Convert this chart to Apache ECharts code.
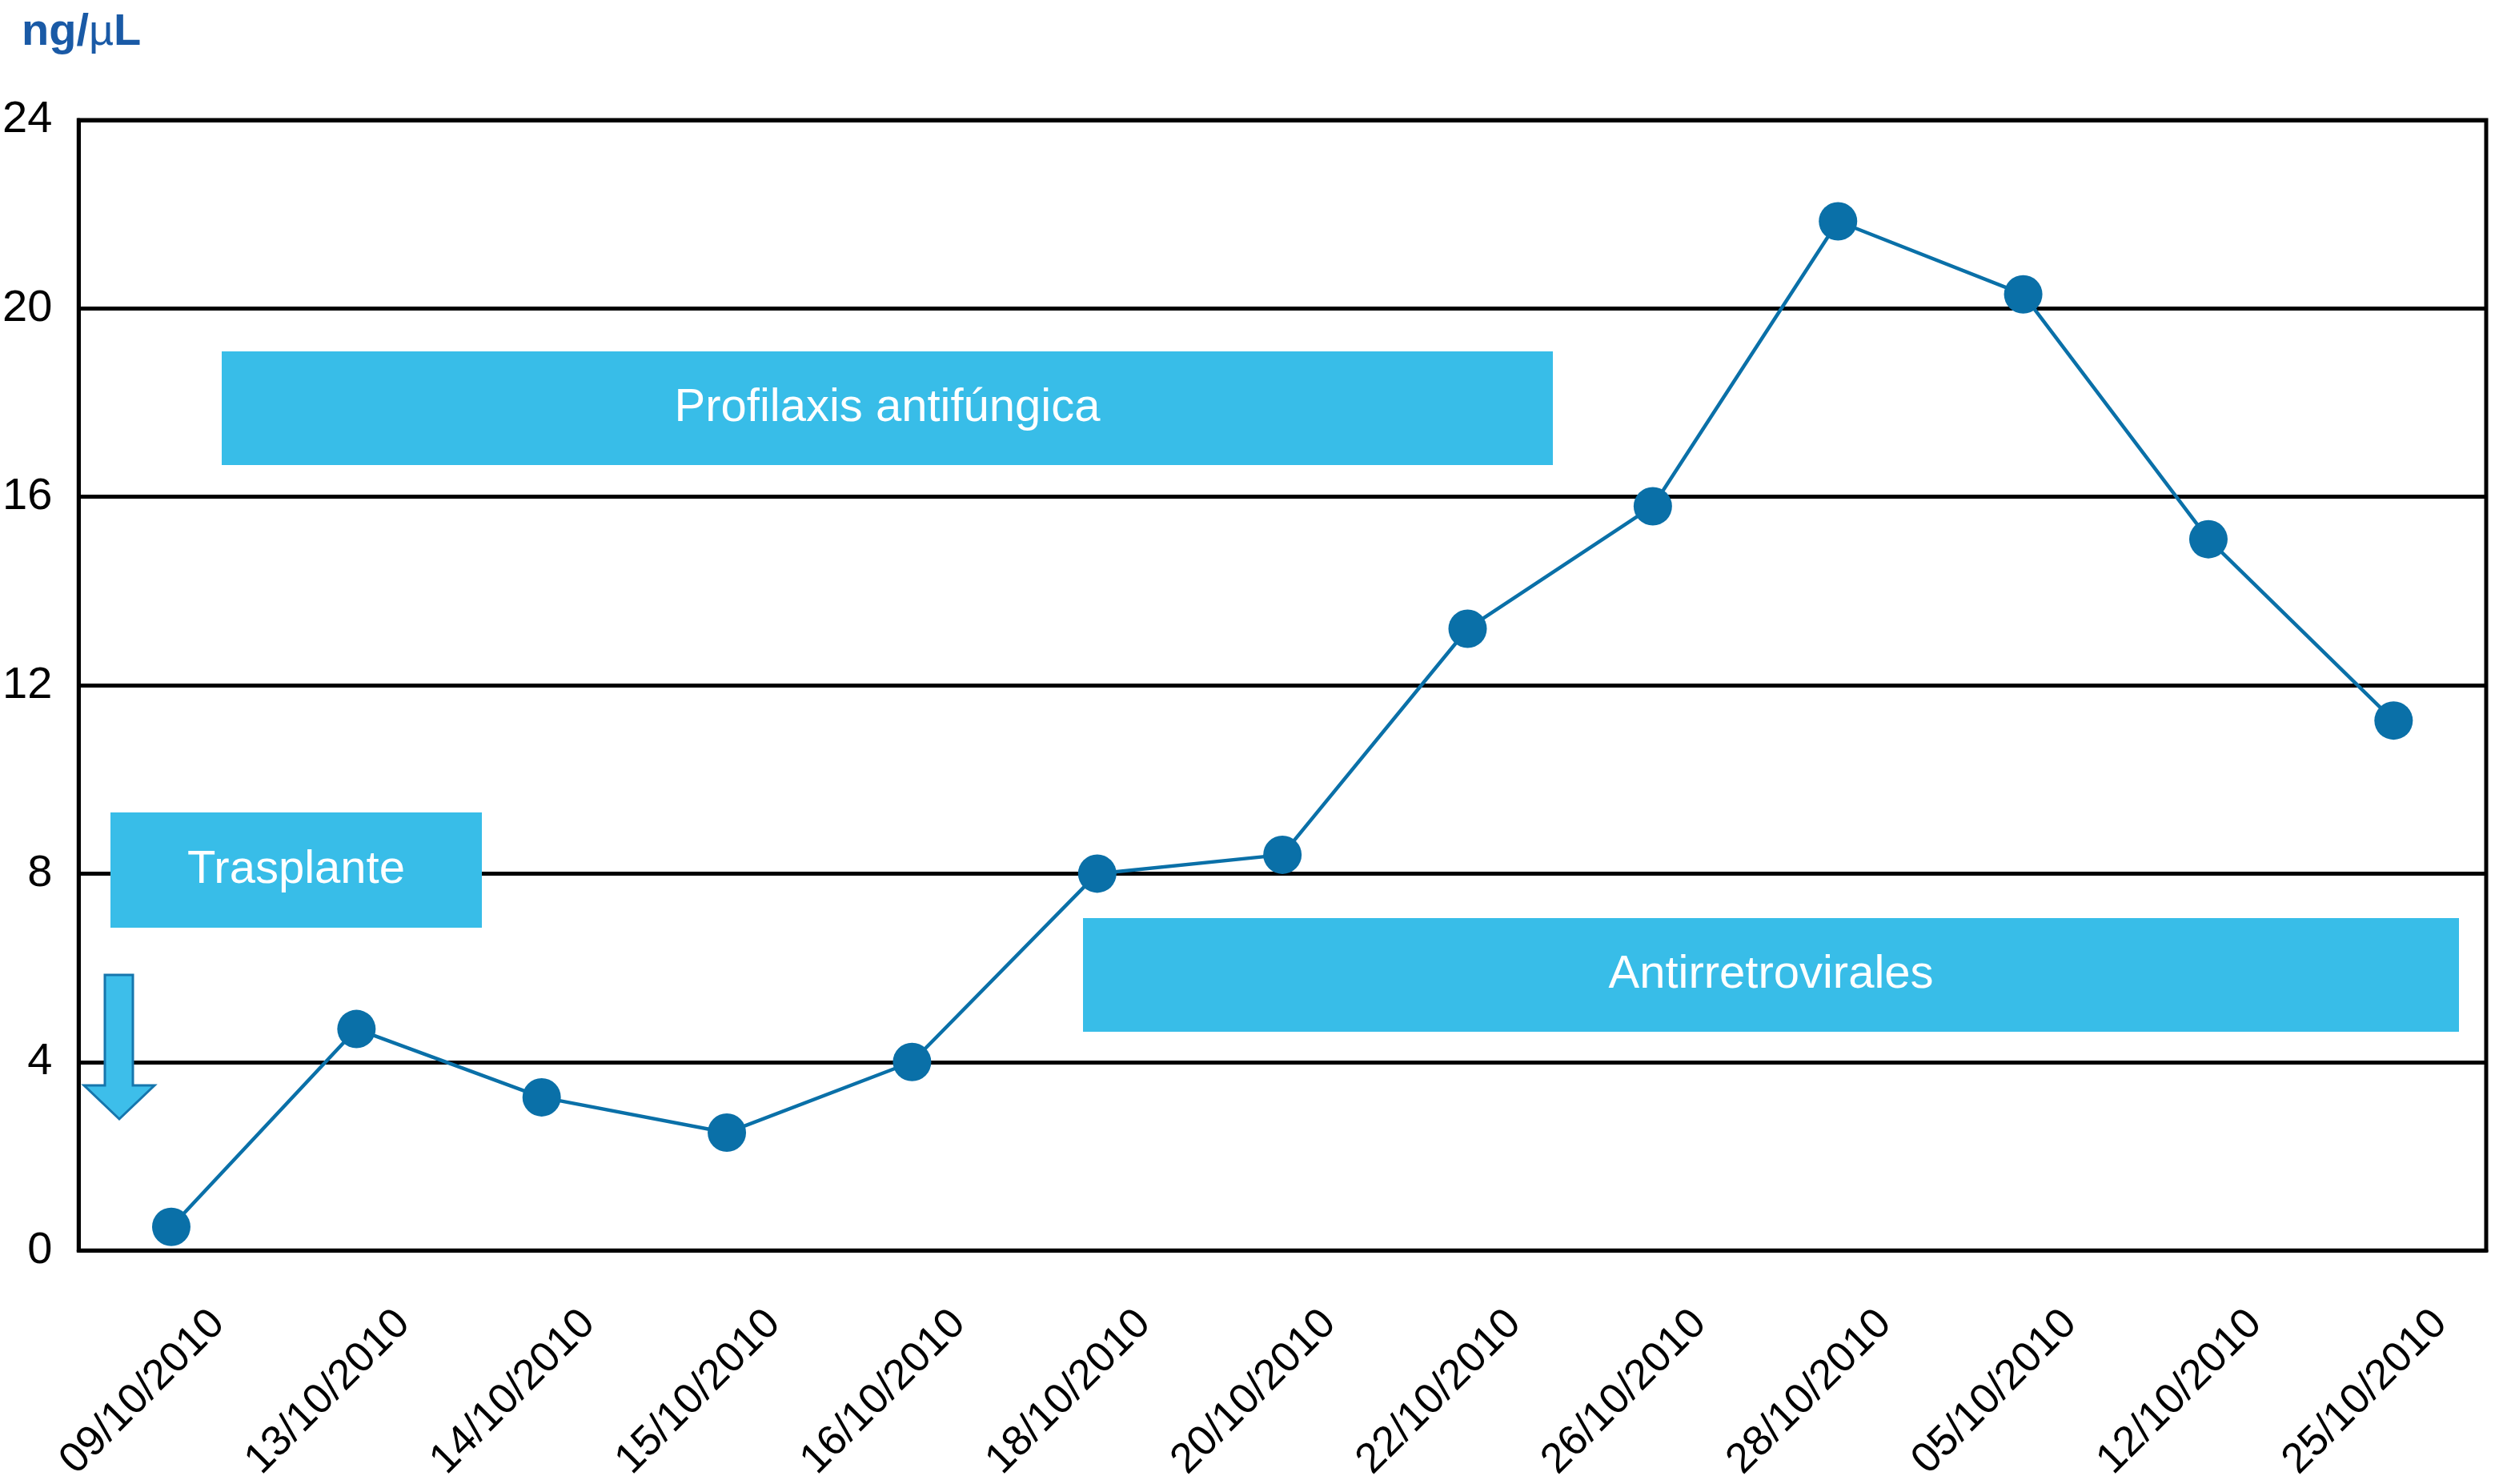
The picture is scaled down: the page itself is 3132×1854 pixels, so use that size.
<!DOCTYPE html>
<html>
<head>
<meta charset="utf-8">
<script src="https://cdn.jsdelivr.net/npm/echarts@6/dist/echarts.min.js"></script>
<style>
html,body{margin:0;padding:0;background:#fff;}
#c{width:3132px;height:1854px;}
</style>
</head>
<body>
<div id="c"></div>
<script>
const categories = ['09/10/2010','13/10/2010','14/10/2010','15/10/2010','16/10/2010','18/10/2010','20/10/2010','22/10/2010','26/10/2010','28/10/2010','05/10/2010','12/10/2010','25/10/2010'];
const values = [0.5, 4.7, 3.25, 2.5, 4.0, 8.0, 8.4, 13.2, 15.8, 21.85, 20.3, 15.1, 11.25];
const yTicks = [0, 4, 8, 12, 16, 20, 24];
const boxLabels = ['Trasplante', 'Profilaxis antifúngica', 'Antirretrovirales'];

const FONT = '"Liberation Sans", Arial, Helvetica, sans-serif';
const BOX = '#38bde8';
const LINE = '#0a70a8';

const chart = echarts.init(document.getElementById('c'), null, {renderer: 'canvas'});

// annotation rectangles (layout, pixel space)
const boxes = [
  {x: 138, y: 1015, w: 464, h: 144, text: boxLabels[0]},
  {x: 277, y: 439, w: 1663, h: 142, text: boxLabels[1]},
  {x: 1353, y: 1147, w: 1719, h: 142, text: boxLabels[2]}
];

const graphics = [];
boxes.forEach(b => {
  graphics.push({
    type: 'rect', z: 1,
    shape: {x: b.x, y: b.y, width: b.w, height: b.h},
    style: {fill: BOX}
  });
  graphics.push({
    type: 'text', z: 2,
    x: b.x + b.w / 2, y: b.y + b.h / 2,
    style: {
      text: b.text, fill: '#fff',
      fontFamily: FONT, fontSize: 58,
      align: 'center', verticalAlign: 'middle'
    }
  });
});
graphics.push({
  type: 'polygon', z: 1,
  shape: {points: [[131,1218],[166,1218],[166,1356],[193,1356],[149,1398],[105,1356],[131,1356]]},
  style: {fill: '#3dbeea', stroke: '#1676ad', lineWidth: 3}
});

chart.setOption({
  animation: false,
  backgroundColor: '#fff',
  title: {
    text: '{b|ng/}{m|µ}{b|L}',
    left: 22, top: 8,
    textStyle: {
      rich: {
        b: {fontFamily: FONT, fontWeight: 'bold', fontSize: 56, color: '#1a5aa6'},
        m: {fontFamily: FONT, fontWeight: 'normal', fontSize: 54, color: '#1a5aa6'}
      }
    }
  },
  grid: {
    left: 90, top: 150, width: 3016, height: 1420,
    show: true, borderColor: '#000', borderWidth: 5, backgroundColor: 'transparent'
  },
  xAxis: {
    type: 'category',
    data: categories,
    boundaryGap: true,
    axisLine: {lineStyle: {color: '#000', width: 5}},
    axisTick: {show: false},
    axisLabel: {
      interval: 0,
      rotate: 45,
      margin: -6,
      verticalAlign: 'top',
      align: 'right',
      padding: [78, 22, 0, 0],
      fontFamily: FONT,
      fontSize: 53,
      color: '#000'
    }
  },
  yAxis: {
    type: 'value',
    min: yTicks[0], max: yTicks[yTicks.length - 1], interval: 4,
    axisLine: {show: true, lineStyle: {color: '#000', width: 5}},
    axisTick: {show: false},
    splitLine: {lineStyle: {color: '#000', width: 5}},
    axisLabel: {margin: 33, fontFamily: FONT, fontSize: 56, color: '#000'}
  },
  series: [{
    type: 'line',
    data: values,
    symbol: 'circle',
    symbolSize: 48,
    z: 3,
    lineStyle: {color: LINE, width: 4.5},
    itemStyle: {color: LINE}
  }],
  graphic: graphics
});
</script>
</body>
</html>
